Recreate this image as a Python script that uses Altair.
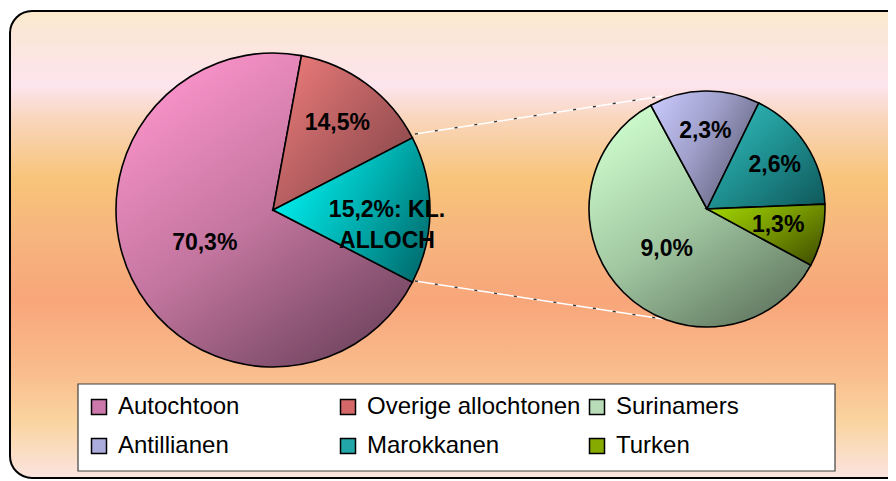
import math
import altair as alt
import pandas as pd

# ---------------- data ----------------
main_cats = ["Autochtoon", "Overige allochtonen", "KL. ALLOCH"]
main_vals = [70.3, 14.5, 15.2]
main_labels = ["70,3%", "14,5%", "15,2%: KL.\nALLOCH"]

sub_cats = ["Surinamers", "Antillianen", "Marokkanen", "Turken"]
sub_vals = [9.0, 2.3, 2.6, 1.3]
sub_labels = ["9,0%", "2,3%", "2,6%", "1,3%"]

legend_names = ["Autochtoon", "Overige allochtonen", "Surinamers",
                "Antillianen", "Marokkanen", "Turken"]
legend_colors = ["#cc78aa", "#d46868", "#b8dcb8", "#ababdc", "#22a6a8", "#86aa00"]

main_df = pd.DataFrame({"cat": main_cats, "value": main_vals, "label": main_labels})
sub_df = pd.DataFrame({"cat": sub_cats, "value": sub_vals, "label": sub_labels})
legend_df = pd.DataFrame({"name": legend_names})

FONT = "Liberation Sans"
W, H = 880, 473


def grad(c0, c1, c2, x1=0.0, y1=0.0, x2=1.0, y2=1.0):
    return alt.LinearGradient(
        gradient="linear",
        stops=[alt.GradientStop(color=c0, offset=0),
               alt.GradientStop(color=c1, offset=0.5),
               alt.GradientStop(color=c2, offset=1)],
        x1=x1, y1=y1, x2=x2, y2=y2)


# per-slice styling: gradient fill and label radius (pixels)
main_style = {
    "Autochtoon": (grad("#f892c8", "#c2759e", "#744662", 0.15, 0.1, 0.75, 1.0), 76),
    "Overige allochtonen": (grad("#f27e7c", "#b86062", "#824446", 0.0, 0.0, 1.0, 0.9), 108),
    "KL. ALLOCH": (grad("#00f4f4", "#00b4b4", "#006e70", 0.0, 0.3, 1.0, 0.8), 114),
}
sub_style = {
    "Surinamers": (grad("#ccfacc", "#a2c8a2", "#667e66", 0.1, 0.1, 0.7, 1.0), 57),
    "Antillianen": (grad("#ccccff", "#a0a0cc", "#62627c", 0.0, 0.0, 1.0, 0.6), 78),
    "Marokkanen": (grad("#34c4c4", "#1f8f90", "#0f5658", 0.0, 0.0, 1.0, 1.0), 81),
    "Turken": (grad("#a4d800", "#7a9c00", "#475600", 0.0, 0.0, 1.0, 0.8), 73),
}


def pie_layers(df, style, start_deg, cx, cy, r):
    total = float(df["value"].sum())
    a0 = math.radians(start_deg)
    scale = alt.Scale(domain=[0, total], range=[a0, a0 + 2 * math.pi])
    out = []
    for cat in df["cat"]:
        fill, lr = style[cat]
        base = (alt.Chart(df)
                .transform_window(cum="sum(value)", frame=[None, 0])
                .transform_calculate(start="datum.cum - datum.value",
                                     mid="datum.cum - datum.value / 2")
                .transform_filter(alt.datum.cat == cat))
        arc = base.mark_arc(fill=fill, stroke="black", strokeWidth=1.6,
                            radius=r).encode(
            theta=alt.Theta("start:Q", scale=scale, stack=False),
            theta2="cum:Q",
            x=alt.value(cx), y=alt.value(cy))
        txt = base.mark_text(font=FONT, fontSize=23, fontWeight="bold",
                             color="black", radius=lr, lineBreak="\n",
                             lineHeight=31, align="center",
                             baseline="middle").encode(
            theta=alt.Theta("mid:Q", scale=scale, stack=False),
            text="label:N",
            x=alt.value(cx), y=alt.value(cy))
        out += [arc, txt]
    return out


one = legend_df.head(1)

# background panel with rounded border
bg = alt.Chart(one).mark_rect(
    fill=alt.LinearGradient(
        gradient="linear",
        stops=[alt.GradientStop(color="#fbeacc", offset=0.0),
               alt.GradientStop(color="#fbe6d8", offset=0.05),
               alt.GradientStop(color="#fde4ee", offset=0.16),
               alt.GradientStop(color="#f9d6bc", offset=0.23),
               alt.GradientStop(color="#f8c47a", offset=0.36),
               alt.GradientStop(color="#f6b47e", offset=0.49),
               alt.GradientStop(color="#f8a67a", offset=0.62),
               alt.GradientStop(color="#f9bc8c", offset=0.77),
               alt.GradientStop(color="#fad4a0", offset=0.88),
               alt.GradientStop(color="#fbe4e0", offset=1.0)],
        x1=0, y1=0, x2=0, y2=1),
    stroke="black", strokeWidth=2, cornerRadius=22).encode(
    x=alt.value(2), x2=alt.value(900), y=alt.value(3), y2=alt.value(470))

# connector lines between the two pies
def connector(y0, y1, color, width, dash=None):
    kw = dict(color=color, strokeWidth=width)
    if dash:
        kw["strokeDash"] = dash
    return alt.Chart(one).mark_rule(**kw).encode(
        x=alt.value(407), y=alt.value(y0), x2=alt.value(655), y2=alt.value(y1))


lines = [connector(126, 88, "white", 1.5), connector(273, 311, "white", 1.5),
         connector(126, 88, "#333333", 1.3, [3, 17]),
         connector(273, 311, "#333333", 1.3, [3, 17])]

# legend box
legend_box = alt.Chart(one).mark_rect(
    fill="white", stroke="#404040", strokeWidth=1.2).encode(
    x=alt.value(70), x2=alt.value(827), y=alt.value(376), y2=alt.value(463))

legend_layer = alt.Chart(legend_df).mark_point(
    filled=True, shape="square", opacity=0, stroke="black", strokeWidth=1.5).encode(
    x=alt.value(0), y=alt.value(0),
    color=alt.Color("name:N",
                    scale=alt.Scale(domain=legend_names, range=legend_colors),
                    legend=alt.Legend(
                        title=None, orient="none", legendX=79, legendY=387,
                        direction="horizontal",
                        columns=3, gridAlign="all", columnPadding=4,
                        rowPadding=15, padding=0,
                        symbolType="square", symbolSize=225,
                        symbolOpacity=1, symbolStrokeColor="black",
                        symbolStrokeWidth=1.5, labelFont=FONT,
                        labelFontSize=24, labelColor="black",
                        labelOffset=7, labelLimit=400)))

layers = [bg] + lines
layers += pie_layers(main_df, main_style, 117.36, 265, 202, 157)
layers += pie_layers(sub_df, sub_style, 118.4, 699, 201, 118)
layers += [legend_box, legend_layer]

chart = alt.layer(*layers).resolve_scale(theta="independent").properties(
    width=W, height=H, padding=0,
    autosize=alt.AutoSizeParams(type="none"),
    background="white",
).configure_view(stroke=None)

chart.save("out.html", embed_options={"renderer": "svg", "actions": False})
